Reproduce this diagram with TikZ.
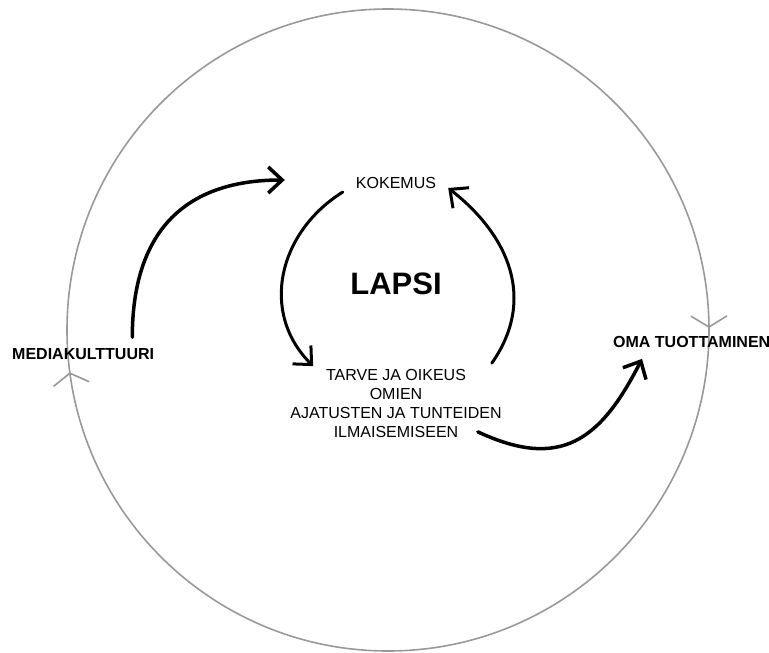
\documentclass[tikz,border=0pt]{standalone}
\usepackage{fontspec}
\setmainfont{Liberation Sans}
\usetikzlibrary{arrows.meta,decorations.markings}

\begin{document}
\begin{tikzpicture}[x=1pt,y=1pt,
  txt/.style={inner sep=0pt,font=\fontsize{16}{19}\selectfont},
  boldtxt/.style={inner sep=0pt,font=\fontsize{16}{19}\selectfont\bfseries},
  flow/.style={line width=3.5pt,line cap=round,-{Straight Barb[length=14pt,width=26pt]}},
  ring/.style={draw=gray!80,line width=1.6pt,postaction={decorate},
    decoration={markings,
      mark=at position 0.249 with {\arrow{Straight Barb[length=11pt,width=36pt]}},
      mark=at position 0.729 with {\arrow{Straight Barb[length=11pt,width=36pt]}}}}]
\useasboundingbox (0,0) rectangle (769,-653);
\draw[ring] (388,-9) arc[start angle=90,end angle=-270,radius=321pt];

\node[inner sep=0pt,font=\fontsize{31}{31}\selectfont\bfseries] (lapsi) at (396,-284) {LAPSI};
\node[txt] (kokemus) at (396,-183) {KOKEMUS};
\node[txt,align=center] (tarve) at (396,-403.5) {TARVE JA OIKEUS\\OMIEN\\AJATUSTEN JA TUNTEIDEN\\ILMAISEMISEEN};
\node[boldtxt,anchor=west] (media) at (12,-354) {MEDIAKULTTUURI};
\node[boldtxt,anchor=west] (oma) at (613,-342) {OMA TUOTTAMINEN};

\draw[flow] ([shift={(-22pt,11pt)}]media.north east) to[out=90,in=180,looseness=1.2] ([shift={(-71pt,3pt)}]kokemus.west);
\draw[flow,line width=3pt] ([shift={(-13pt,-9pt)}]kokemus.west) to[out=212,in=135,looseness=1.1] ([shift={(23pt,3pt)}]tarve.north west);
\draw[flow,line width=3pt] ([shift={(-10pt,6pt)}]tarve.north east) to[out=55,in=322,looseness=1.1] ([shift={(12pt,-5pt)}]kokemus.east);
\draw[flow] ([shift={(-24pt,6pt)}]tarve.south east) to[out=-25,in=243,looseness=1.3] ([shift={(29pt,-11pt)}]oma.south west);
\end{tikzpicture}
\end{document}
